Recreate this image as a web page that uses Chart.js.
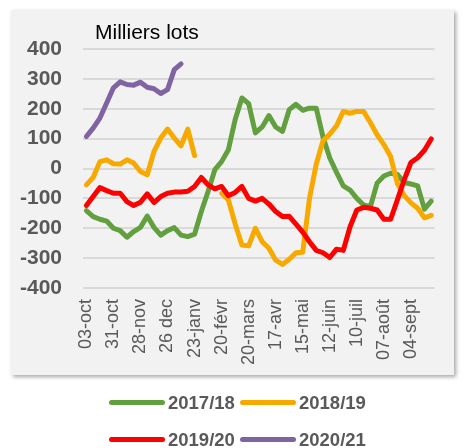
<!DOCTYPE html>
<html>
<head>
<meta charset="utf-8">
<script src="https://cdn.jsdelivr.net/npm/chart.js@4.4.0/dist/chart.umd.min.js"></script>
<style>
  body { margin: 0; background: #fff; font-family: "Liberation Sans", Arial, sans-serif; }
  #wrap { position: relative; width: 464px; height: 448px; }
  #box { position: absolute; left: 11px; top: 10px; width: 443px; height: 365px; background: #f2f2f2; box-shadow: 2px 2px 4px rgba(0,0,0,0.35); }
  #title { position: absolute; left: 95px; top: 21px; font-size: 21px; line-height: 21px; color: #000; }
  canvas { position: absolute; left: 0; top: 0; }
  #legend { position: absolute; left: 109px; top: 384px; display: grid; grid-template-columns: 131px 131px; grid-auto-rows: 37px; }
  .item { display: flex; align-items: center; font-weight: bold; font-size: 18.5px; color: #595959; }
  .swatch { width: 56px; height: 5px; border-radius: 3px; margin-right: 3px; }
</style>
</head>
<body>
<div id="wrap">
  <div id="box"></div>
  <canvas id="chart" width="464" height="448"></canvas>
  <div id="title">Milliers lots</div>
  <div id="legend"></div>
</div>
<script>
// weekly categories, a label shown every 4 weeks
const weeks = ['03-oct', '10-oct', '17-oct', '24-oct', '31-oct', '07-nov', '14-nov', '21-nov', '28-nov',
  '05-dec', '12-dec', '19-dec', '26 dec', '02-janv', '09-janv', '16-janv', '23-janv', '30-janv',
  '06-févr', '13-févr', '20-févr', '27-févr', '06-mars', '13-mars', '20-mars', '27-mars', '03-avr',
  '10-avr', '17-avr', '24-avr', '01-mai', '08-mai', '15-mai', '22-mai', '29-mai', '05-juin', '12-juin',
  '19-juin', '26-juin', '03-juil', '10-juil', '17-juil', '24-juil', '31-juil', '07-août', '14-août',
  '21-août', '28-août', '04-sept', '11-sept', '18-sept', '25-sept'];

const yTicks = [-400, -300, -200, -100, 0, 100, 200, 300, 400];

const seasons = ['2017/18', '2018/19', '2019/20', '2020/21'];
const colors = ['#62A03F', '#F8A900', '#FF0000', '#8064A2'];

const s1718 = [-141, -161, -170, -176, -200, -208, -230, -211, -197, -159, -197, -223, -208, -198, -223, -228,
  -220, -144, -77, -4, 23, 63, 163, 236, 217, 119, 139, 177, 139, 124, 197, 215, 195, 202, 202, 105,
  35, -13, -58, -72, -100, -122, -128, -49, -25, -16, -20, -47, -52, -58, -136, -109];
const s1819 = [-55, -30, 23, 29, 16, 15, 29, 18, -10, -21, 57, 102, 132, 102, 76, 132, 43, null, null, null,
  -83, -105, -185, -256, -259, -200, -245, -267, -307, -321, -304, -282, -280, -100, 15, 93, 115, 143,
  191, 185, 191, 191, 154, 113, 80, 40, -50, -90, -115, -133, -165, -157];
const s1920 = [-124, -94, -64, -74, -83, -83, -111, -124, -113, -85, -114, -94, -83, -79, -79, -76, -60, -30,
  -55, -68, -60, -91, -80, -60, -100, -109, -100, -119, -144, -161, -160, -186, -213, -245, -274, -282,
  -298, -270, -274, -195, -139, -130, -133, -139, -170, -170, -105, -38, 20, 36, 61, 99];
const s2021 = [107, 135, 169, 219, 270, 290, 281, 279, 289, 272, 267, 251, 264, 331, 350];

const series = [s1718, s1819, s1920, s2021];

Chart.defaults.font.family = '"Liberation Sans", Arial, sans-serif';

const datasets = series.map((d, i) => ({
  label: seasons[i],
  data: d,
  borderColor: colors[i],
  backgroundColor: colors[i],
  borderWidth: 5,
  pointRadius: 0,
  tension: 0,
  borderJoinStyle: 'round',
  borderCapStyle: 'round',
  spanGaps: false,
  order: series.length - i  // later seasons drawn on top
}));

new Chart(document.getElementById('chart'), {
  type: 'line',
  data: { labels: weeks, datasets },
  options: {
    responsive: false,
    animation: false,
    layout: { padding: { top: 49, bottom: 0, left: 0, right: 21 } },
    plugins: { legend: { display: false }, tooltip: { enabled: false } },
    scales: {
      x: {
        offset: true,
        grid: { display: false, drawTicks: false },
        border: { display: false },
        ticks: {
          autoSkip: false, minRotation: 90, maxRotation: 90, padding: 11,
          color: '#595959', font: { size: 18 },
          callback: (v, i) => (i % 4 === 0 ? weeks[i] : '')
        },
        afterFit: s => { s.height = 160; }
      },
      y: {
        min: yTicks[0],
        max: yTicks[yTicks.length - 1],
        grid: { color: '#d9d9d9', lineWidth: 2, drawTicks: false },
        border: { display: false },
        ticks: { stepSize: 100, padding: 21, color: '#595959', font: { size: 21, weight: 'bold' } },
        afterFit: s => { s.width = 83; }
      }
    }
  }
});

// legend in two rows, as in the original
const legend = document.getElementById('legend');
seasons.forEach((name, i) => {
  const item = document.createElement('div');
  item.className = 'item';
  item.innerHTML = '<span class="swatch" style="background:' + colors[i] + '"></span>' + name;
  legend.appendChild(item);
});
</script>
</body>
</html>
